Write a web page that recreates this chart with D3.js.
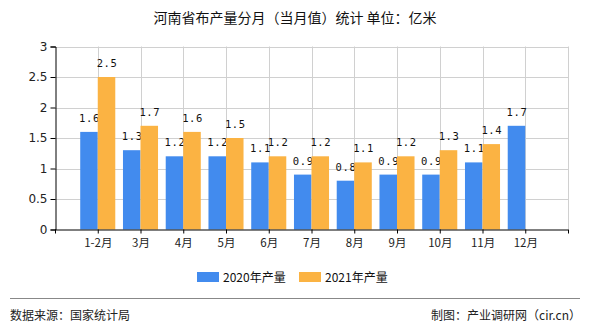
<!DOCTYPE html>
<html><head><meta charset="utf-8">
<script src="https://cdn.jsdelivr.net/npm/d3@7"></script>
<style>body{margin:0;background:#fff}svg{display:block}</style>
</head><body>
<svg id="c" width="590" height="330"></svg>
<script>
const categories = ["1-2月","3月","4月","5月","6月","7月","8月","9月","10月","11月","12月"];
const values2020 = [1.6,1.3,1.2,1.2,1.1,0.9,0.8,0.9,0.9,1.1,1.7];
const values2021 = [2.5,1.7,1.6,1.5,1.2,1.2,1.1,1.2,1.3,1.4,null];
const yTicks = [0,0.5,1,1.5,2,2.5,3];
const seriesNames = ["2020年产量","2021年产量"];
const colors = ["#428bee","#fbb343"];

const svg = d3.select("#c");
const font = "'Noto Sans CJK SC', 'DejaVu Sans', sans-serif";
const L = 55, R = 568, T = 46.5, B = 229.5;
const x = d3.scaleLinear().domain([0, categories.length + 1]).range([L, R]);
const y = d3.scaleLinear().domain([0, 3]).range([B, T]);
const step = x(1) - x(0);
const bw = step * 0.41;

// title
svg.append("text").attr("x", 295).attr("y", 23).attr("text-anchor","middle")
  .attr("font-family", font).attr("font-size", 14).attr("fill","#111")
  .text("河南省布产量分月（当月值）统计 单位：亿米");

// grid
const g = svg.append("g");
g.selectAll(".hg").data(yTicks.slice(1)).join("line")
  .attr("x1", L).attr("x2", R).attr("y1", d => Math.round(y(d))+0.5).attr("y2", d => Math.round(y(d))+0.5)
  .attr("stroke","#d0d0d0").attr("stroke-width",1);
g.selectAll(".vg").data(d3.range(1, categories.length + 2)).join("line")
  .attr("x1", d => Math.round(x(d))+0.5).attr("x2", d => Math.round(x(d))+0.5).attr("y1", T).attr("y2", B)
  .attr("stroke","#d0d0d0").attr("stroke-width",1);

// bars
const bars = svg.append("g");
categories.forEach((c, i) => {
  const cx = x(i + 1);
  [values2020[i], values2021[i]].forEach((v, s) => {
    if (v == null) return;
    const bx = s === 0 ? cx - bw : cx;
    bars.append("rect").attr("x", bx).attr("width", bw)
      .attr("y", y(v)).attr("height", y(0) - y(v)).attr("fill", colors[s]);
    bars.append("text").attr("x", bx + bw/2 + 0.5).attr("y", y(v) - 10)
      .attr("text-anchor","middle").attr("font-family","'DejaVu Sans Mono', monospace")
      .attr("font-size", 10.5).attr("letter-spacing", 0.6).attr("fill","#111").text(d3.format(".1f")(v));
  });
});

// axes
const yAxis = d3.axisLeft(y).tickValues(yTicks).tickSize(5).tickFormat(d => d);
const ya = svg.append("g").attr("transform", `translate(${L+0.5},0)`).call(yAxis);
ya.select(".domain").attr("stroke","#000");
ya.selectAll("text").attr("font-family","'DejaVu Sans', sans-serif").attr("font-size", 12).attr("fill","#222");

const xAxis = d3.axisBottom(x).tickValues(d3.range(0, categories.length + 2)).tickSize(4)
  .tickFormat(d => (d >= 1 && d <= categories.length) ? categories[d-1] : "");
const xa = svg.append("g").attr("transform", `translate(0,${B})`).call(xAxis);
xa.select(".domain").attr("stroke","#000").attr("d", `M${L},0.5H${R}`);
xa.selectAll(".tick line").attr("stroke","#000");
xa.selectAll("text").attr("font-family", font).attr("font-size", 11.5).attr("fill","#222").attr("dy","0.9em");

// legend
const leg = svg.append("g");
const legX = [197, 299];
seriesNames.forEach((n, i) => {
  leg.append("rect").attr("x", legX[i]).attr("y", 272).attr("width", 22).attr("height", 10).attr("fill", colors[i]);
  leg.append("text").attr("x", legX[i] + 26).attr("y", 281.5).attr("font-family", font)
    .attr("font-size", 12).attr("fill","#111").text(n);
});

// footer
svg.append("line").attr("x1", 10).attr("x2", 580).attr("y1", 298.5).attr("y2", 298.5).attr("stroke","#888");
svg.append("text").attr("x", 10).attr("y", 320).attr("font-family", font).attr("font-size", 12).attr("fill","#222").text("数据来源：国家统计局");
svg.append("text").attr("x", 581).attr("y", 320).attr("text-anchor","end").attr("font-family", font).attr("font-size", 12).attr("fill","#222").text("制图：产业调研网（cir.cn）");
</script>
</body></html>
